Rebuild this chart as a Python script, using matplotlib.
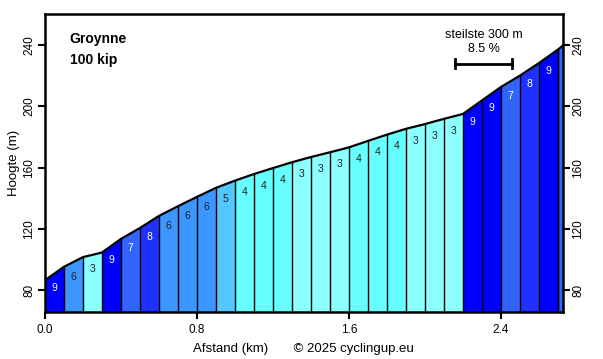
import matplotlib
matplotlib.use("Agg")
import matplotlib.pyplot as plt

plt.rcParams['font.family'] = ['Liberation Sans', 'DejaVu Sans']

afstand = [0.0, 0.1, 0.2, 0.3, 0.4, 0.5, 0.6, 0.7, 0.8, 0.9, 1.0, 1.1, 1.2, 1.3,
           1.4, 1.5, 1.6, 1.7, 1.8, 1.9, 2.0, 2.1, 2.2, 2.3, 2.4, 2.5, 2.6, 2.7, 2.725]
hoogte = [86.5, 95.3, 101.6, 104.6, 113.5, 120.6, 128.5, 134.8, 140.9, 146.8,
          151.5, 155.8, 159.7, 163.5, 166.9, 170.0, 173.2, 177.4, 181.5, 185.3,
          188.4, 191.8, 195.0, 203.8, 212.6, 220.0, 228.2, 237.0, 239.5]
# stijging per segment (%)
stijging = [9, 6, 3, 9, 7, 8, 6, 6, 6, 5, 4, 4, 4, 3, 3, 3, 4, 4, 4, 3, 3, 3,
            9, 9, 7, 8, 9, 7]

kleuren = {3: '#8cffff', 4: '#66ffff', 5: '#52c8ff', 6: '#3c96ff',
           7: '#3264ff', 8: '#1e32ff', 9: '#0000ff'}

ymin, ymax = 65.8, 260.2

fig = plt.figure(figsize=(6.03, 3.59), dpi=100)
ax = fig.add_axes([0.0746, 0.1309, 0.8586, 0.8301])

for i, g in enumerate(stijging):
    x0, x1 = afstand[i], afstand[i + 1]
    ax.fill_between([x0, x1], [hoogte[i], hoogte[i + 1]], ymin,
                    color=kleuren[g], linewidth=0)
    if i > 0:
        ax.plot([x0, x0], [ymin, hoogte[i]], color='black', lw=1)
    if x1 - x0 > 0.05:
        mid = (hoogte[i] + hoogte[i + 1]) / 2
        tc = 'white' if g >= 7 else '#222222'
        ax.text((x0 + x1) / 2, mid - 9.5, str(g), ha='center', va='center',
                fontsize=7.5, color=tc)

ax.plot([afstand[-2], afstand[-2]], [ymin, hoogte[-2]], color='black', lw=1)
ax.plot(afstand, hoogte, color='black', lw=1.6)

ax.set_xlim(0, afstand[-1])
ax.set_ylim(ymin, ymax)

ax.set_xticks([0.0, 0.8, 1.6, 2.4])
ax.set_xticklabels(['0.0', '0.8', '1.6', '2.4'])
ax.set_yticks([80, 120, 160, 200, 240])
ax.tick_params(axis='both', direction='out', length=5, width=1.5, labelsize=8.5)
ax.tick_params(axis='y', right=True, labelright=True, pad=2)
for t in ax.yaxis.get_major_ticks():
    t.label1.set_rotation(90)
    t.label1.set_va('center')
    t.label2.set_rotation(90)
    t.label2.set_va('center')

for s in ax.spines.values():
    s.set_linewidth(1.8)

ax.set_xlabel('Afstand (km)       \u00a9 2025 cyclingup.eu', fontsize=9.5, labelpad=5)
ax.set_ylabel('Hoogte (m)', fontsize=9.5, labelpad=2)

ax.text(0.048, 0.915, 'Groynne', transform=ax.transAxes, fontsize=10,
        fontweight='bold', va='center')
ax.text(0.048, 0.845, '100 kip', transform=ax.transAxes, fontsize=10,
        fontweight='bold', va='center')

# steilste 300 m
b0, b1, by = 2.158, 2.458, 227.7
ax.plot([b0, b1], [by, by], color='black', lw=2)
ax.plot([b0, b0], [by - 3, by + 3], color='black', lw=2)
ax.plot([b1, b1], [by - 3, by + 3], color='black', lw=2)
ax.text((b0 + b1) / 2, 246.6, 'steilste 300 m', ha='center', va='center', fontsize=9)
ax.text((b0 + b1) / 2, 237.5, '8.5 %', ha='center', va='center', fontsize=9)

fig.savefig('out.png', dpi=100)
